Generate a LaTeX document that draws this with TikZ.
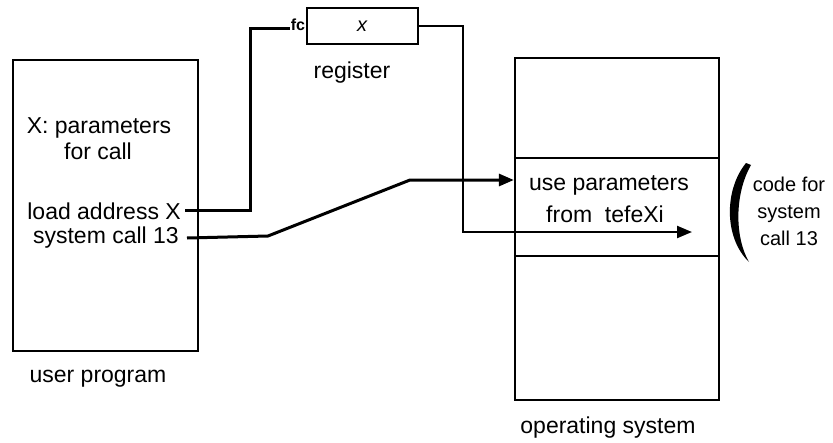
\documentclass[tikz,border=0pt]{standalone}
\usepackage{fontspec}
\setmainfont{Liberation Sans}
\usetikzlibrary{arrows.meta}
\begin{document}
\begin{tikzpicture}[x=1pt,y=-1pt,
  lbl/.style={font=\fontsize{23}{26}\selectfont, inner sep=0pt},
  frame/.style={draw, line width=2.3pt, inner sep=0pt},
  conn/.style={line width=3pt},
  thinconn/.style={line width=2.3pt},
  tip/.style={-{Triangle[length=15pt,width=12pt]}}]
\useasboundingbox (0,0) rectangle (833,442);
% user program box
\node[frame, minimum width=185pt, minimum height=291pt] (up) at (105.5,205.5) {};
\node[lbl] (xp) at (99,128) {X: parameters};
\node[lbl] (fcall) at (98,151) {for call};
\node[lbl, anchor=east] (ld) at (181,211) {load address X};
\node[lbl, anchor=east] (sc) at (179,238) {system call 13};
\node[lbl] (uplab) at (98,379) {user program};
% register
\node[frame, minimum width=111pt, minimum height=36pt] (reg) at (362.5,26) {};
\node[lbl, font=\fontsize{20}{22}\selectfont\itshape] (rx) at (362,26) {x};
\node[lbl] (reglab) at (352,73) {register};
% OS box
\node[frame, minimum width=204pt, minimum height=342pt] (os) at (617,229) {};
\coordinate (d1) at (0,158);
\coordinate (d2) at (0,256);
\draw[line width=2.3pt] (os.west |- d1) -- (os.east |- d1);
\draw[line width=2.3pt] (os.west |- d2) -- (os.east |- d2);
\node[lbl] (usep) at (609,185) {use parameters};
\node[lbl] (from) at (605,214) {from\ \ tefeXi};
\node[lbl] (oslab) at (608,428) {operating system};
% brace
\fill (746,163) .. controls (724,190) and (724,238) .. (749,262)
      .. controls (735,238) and (734,195) .. (751,165) -- cycle;
\node[lbl, align=center, font=\fontsize{20}{27}\selectfont] (code) at (789,211) {code for\\system\\call 13};
% connectors
\coordinate (c1) at (250,210);
\coordinate (r1) at (307,28);
\coordinate (c2) at (463,232);
\coordinate (a2) at (692,232);
\coordinate (s1) at (268,236);
\coordinate (s2) at (410,180);
\draw[conn] ([xshift=4pt]ld.east |- c1) -- (c1) |- (r1);
\node[lbl, font=\fontsize{16}{18}\selectfont\bfseries, fill=white, inner sep=0.5pt] (fc) at (298,25) {fc};
\draw[thinconn, tip] (reg.east) -| (c2) -- (a2);
\draw[conn, tip] ([xshift=8pt]sc.east) -- (s1) -- (s2) -- (os.west |- s2);
\end{tikzpicture}
\end{document}
